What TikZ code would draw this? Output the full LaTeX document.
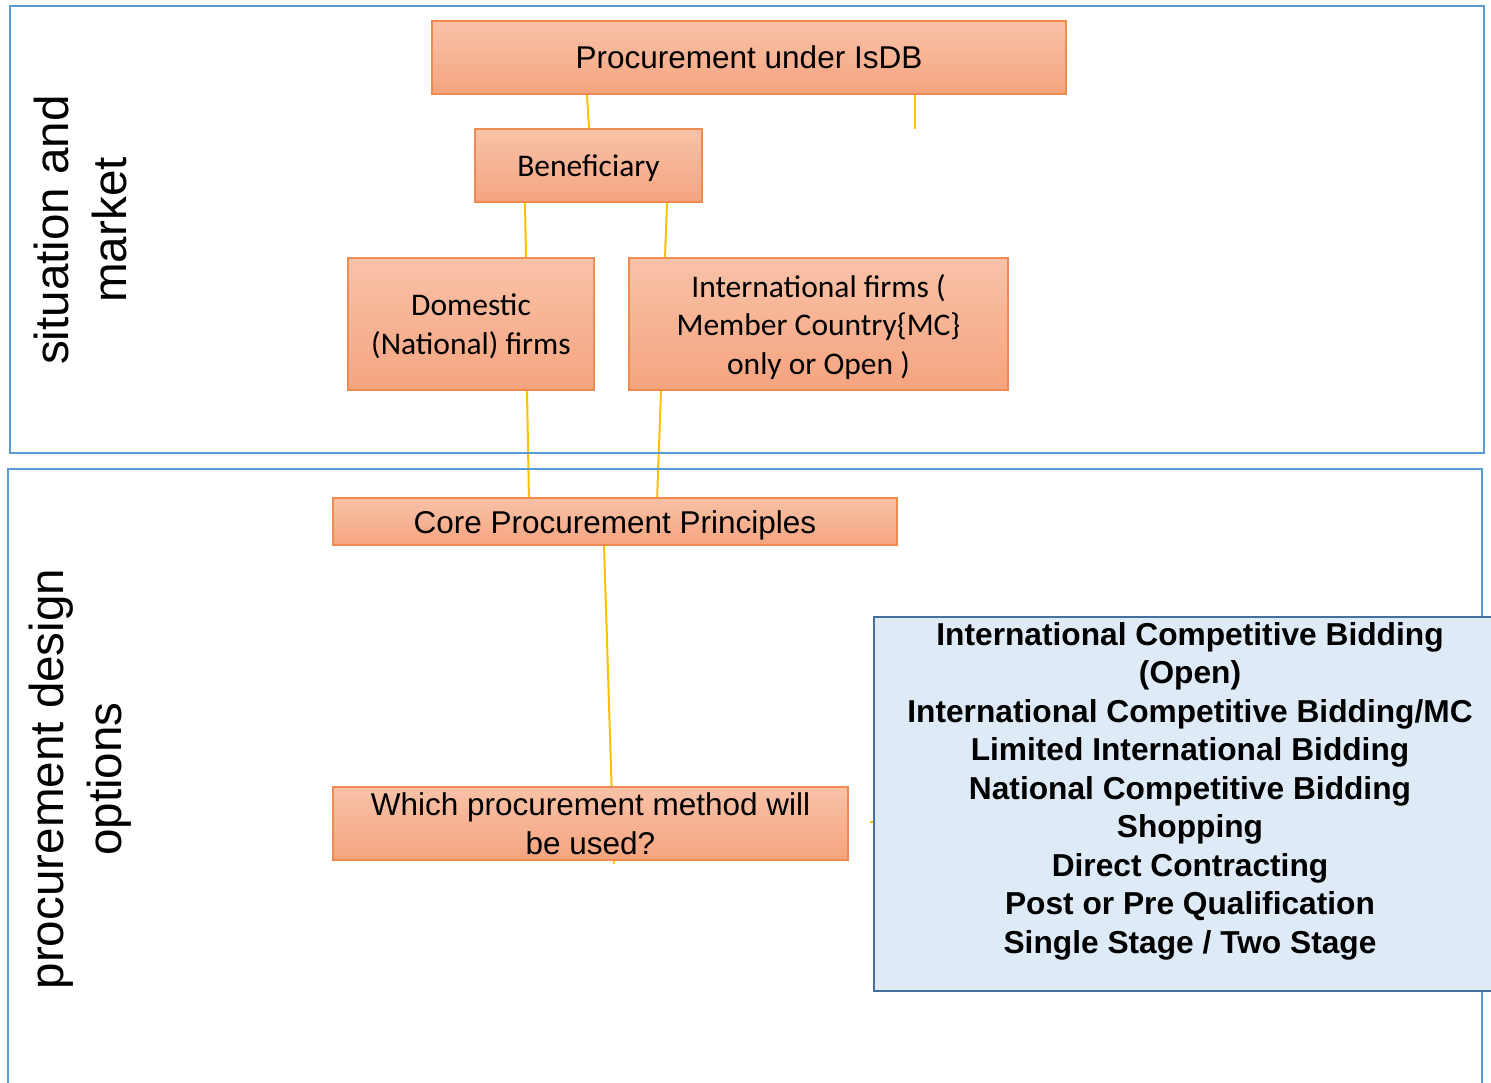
\documentclass[tikz,border=0pt]{standalone}
\usepackage{fontspec}
\setmainfont{Liberation Sans}
\newfontfamily\calibri{Carlito}
\usetikzlibrary{positioning, backgrounds}

\definecolor{framblue}{HTML}{5B9BD5}
\definecolor{boxorange}{HTML}{F08A4E}
\definecolor{toporange}{HTML}{F8C2A8}
\definecolor{botorange}{HTML}{F5A47F}
\definecolor{linkyellow}{HTML}{FFC000}
\definecolor{listfill}{HTML}{DEEAF6}
\definecolor{listblue}{HTML}{41719C}

\tikzset{
  panel/.style={draw=framblue, line width=2pt},
  sidelabel/.style={rotate=90, align=center, inner sep=0,
    font=\fontsize{47.6}{58}\selectfont},
  stepbox/.style={draw=boxorange, line width=1.5pt, top color=toporange,
    bottom color=botorange, align=center, inner sep=0,
    font=\fontsize{31.5}{38.5}\selectfont},
  calbox/.style={stepbox, font=\calibri\fontsize{31.5}{38.5}\selectfont},
  oneline/.style={text height=23pt, text depth=0pt},
  link/.style={draw=linkyellow, line width=2pt}
}

\begin{document}
\begin{tikzpicture}[x=1pt,y=-1pt]
      \useasboundingbox (0,0) rectangle (1491,1083);

      % the two bands
      \draw[panel] (10,6) rectangle (1484,453);
      \draw[panel] (8,469) rectangle (1482,1095);
      \node(sit)[sidelabel] at (80,230) {situation and\\market};
      \node(opt)[sidelabel] at (80,779) {procurement design\\options};

      \node(isdb)[stepbox, oneline, minimum width=634pt, minimum height=73pt] at (749,57.5) {Procurement under IsDB};
      \node(benef)[calbox, oneline, minimum width=227pt, minimum height=73pt] at (588.5,165.5) {Beneficiary};
      \node(dom)[calbox, text depth=0pt, minimum width=246pt, minimum height=132pt] at (471,324) {Domestic\\(National) firms};
      \node(intl)[calbox, text depth=0pt, minimum width=379pt, minimum height=132pt] at (818.5,324) {International firms (\\Member Country\{MC\}\\only or Open )};
      \node(core)[stepbox, oneline, minimum width=564pt, minimum height=47pt] at (615,521.5) {Core Procurement Principles};
      \node(which)[stepbox, minimum width=515pt, minimum height=73pt] at (590.5,823.5) {Which procurement method will\\be used?};

      \node(methods)[draw=listblue, line width=2pt, fill=listfill,
        minimum width=632pt, minimum height=374pt] at (1190,804) {};
      \node(list)[below=0pt of methods.north, align=center, inner ysep=6pt,
        font=\bfseries\fontsize{31.7}{38.5}\selectfont]
        {International Competitive Bidding\\(Open)\\International Competitive Bidding/MC\\
         Limited International Bidding\\National Competitive Bidding\\Shopping\\
         Direct Contracting\\Post or Pre Qualification\\Single Stage / Two Stage};

      \coordinate(isdbend) at (915,129);
      \coordinate(tick) at (870,822);

      \begin{scope}[on background layer]
      \draw[link]([xshift=-162pt]isdb.south)--([xshift=0.5pt]benef.north);
      \draw[link](isdb.south -| isdbend)--(isdbend);
      \draw[link]([xshift=-63.5pt]benef.south)--([xshift=55pt]dom.north);
      \draw[link]([xshift=78.5pt]benef.south)--([xshift=-153.5pt]intl.north);
      \draw[link]([xshift=56pt]dom.south)--([xshift=-86pt,yshift=-4pt]core.north);
      \draw[link]([xshift=-157.5pt]intl.south)--([xshift=42pt,yshift=-4pt]core.north);
      \draw[link]([xshift=-11pt]core.south)--([xshift=23.5pt,yshift=-3pt]which.south);
      \draw[link](tick)--(methods.west |- tick);
      \end{scope}
    \end{tikzpicture}
\end{document}
